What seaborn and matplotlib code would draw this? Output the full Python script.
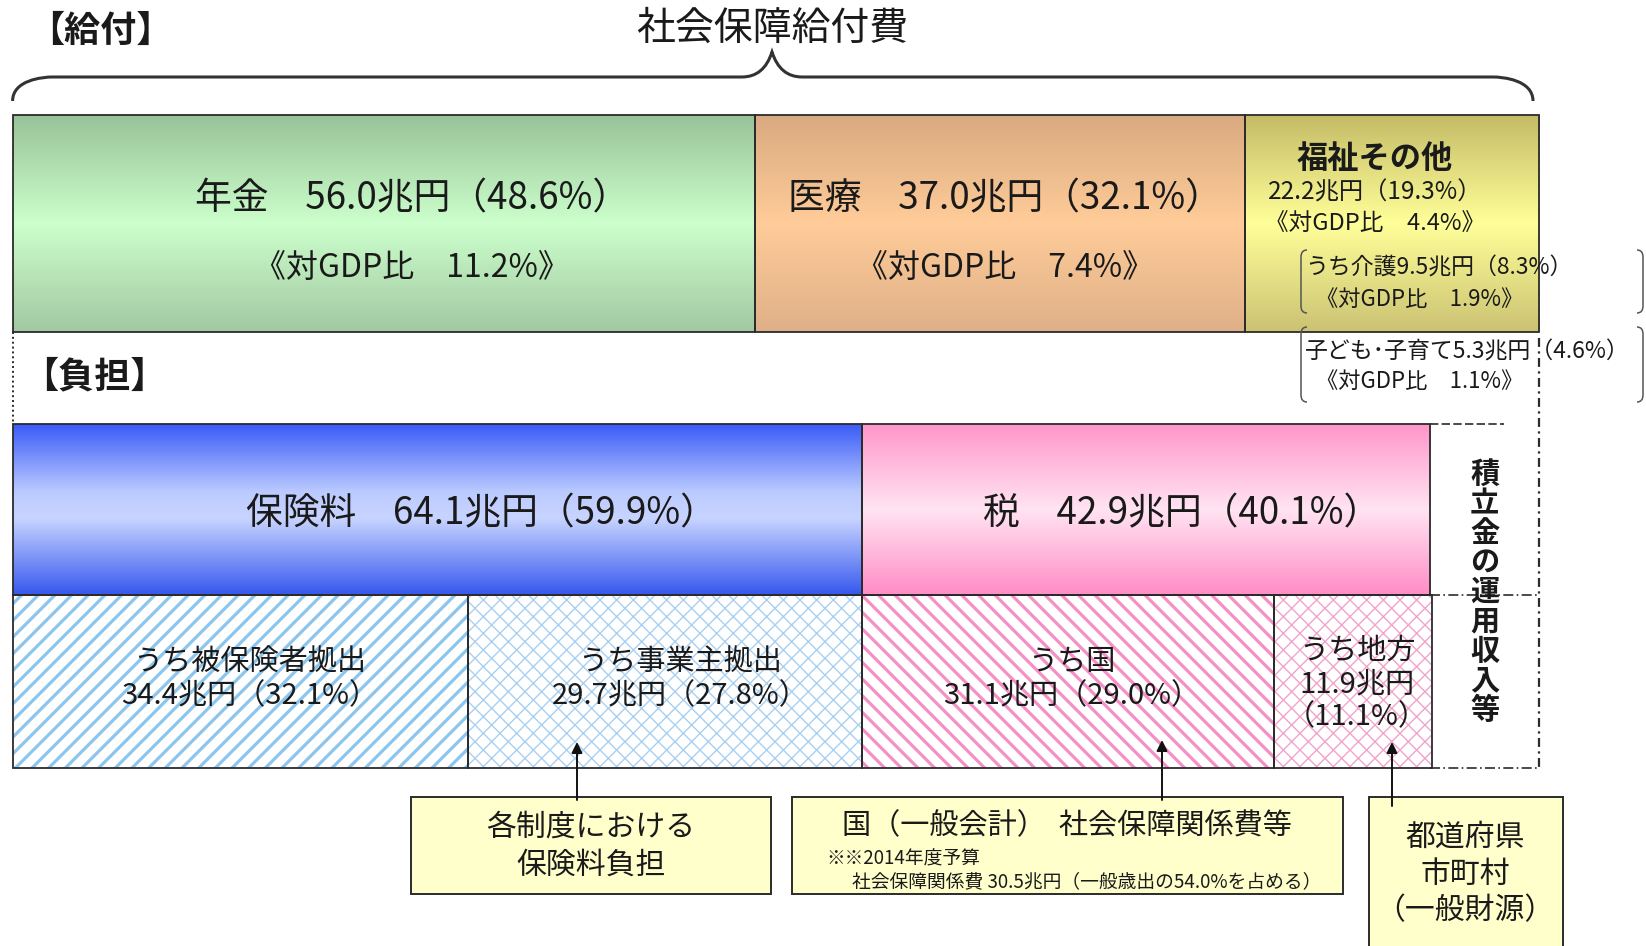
import numpy as np
import matplotlib
matplotlib.use("Agg")
import matplotlib.pyplot as plt
import seaborn as sns
from matplotlib.colors import LinearSegmentedColormap
from matplotlib.path import Path
from matplotlib.patches import PathPatch, Rectangle

# 給付 (兆円)
benefit_names = ["年金", "医療", "福祉その他"]
benefit_values = [56.0, 37.0, 22.2]
benefit_share = [48.6, 32.1, 19.3]
benefit_gdp = [11.2, 7.4, 4.4]

# 福祉その他の内訳
welfare_sub_names = ["うち介護", "子ども･子育て"]
welfare_sub_values = [9.5, 5.3]
welfare_sub_share = [8.3, 4.6]
welfare_sub_gdp = [1.9, 1.1]

# 負担 (兆円)
burden_names = ["保険料", "税"]
burden_values = [64.1, 42.9]
burden_share = [59.9, 40.1]

detail_names = ["うち被保険者拠出", "うち事業主拠出", "うち国", "うち地方"]
detail_values = [34.4, 29.7, 31.1, 11.9]
detail_share = [32.1, 27.8, 29.0, 11.1]

sns.set_theme(style="white")
plt.rcParams["font.family"] = ["Noto Sans CJK JP", "DejaVu Sans"]
TXT = "#1a1a1a"
EDGE = "#2b2b2b"

W, H = 1646, 946
fig = plt.figure(figsize=(W / 100, H / 100), dpi=100)

# bar axes: x in 兆円, y in pixels from top
x0_px, px_per = 12.6, 13.25
ax = fig.add_axes([0, 0, 1, 1])
ax.set_xlim(-x0_px / px_per, (W - x0_px) / px_per)
ax.set_ylim(H, 0)
ax.axis("off")

# overlay axes for text / decorations in pixels
ov = fig.add_axes([0, 0, 1, 1], zorder=5)
ov.set_xlim(0, W)
ov.set_ylim(H, 0)
ov.axis("off")
ov.patch.set_alpha(0)


def to_px(v):
    return x0_px + v * px_per


def grad_bar(left, width, yc, h, stops):
    bar = ax.barh(yc, width, left=left, height=h, color="none",
                  edgecolor=EDGE, linewidth=1.3, zorder=3)[0]
    cmap = LinearSegmentedColormap.from_list("g", stops)
    img = ax.imshow(np.linspace(0, 1, 256).reshape(-1, 1), cmap=cmap,
                    extent=(left, left + width, yc + h / 2, yc - h / 2),
                    aspect="auto", origin="upper", zorder=2)
    img.set_clip_path(bar)


def hatch_bar(left, width, yc, h, hatch, color, lw):
    bar = ax.barh(yc, width, left=left, height=h, color="white",
                  edgecolor=color, linewidth=0, hatch=hatch, zorder=2)[0]
    if hasattr(bar, "set_hatch_linewidth"):
        bar.set_hatch_linewidth(lw)
    ax.barh(yc, width, left=left, height=h, color="none",
            edgecolor=EDGE, linewidth=1.3, zorder=3)


# ---- 給付 bar ----
benefit_stops = [
    [(0, "#98c298"), (0.5, "#ccffcc"), (1, "#a2c8a2")],
    [(0, "#d9aa80"), (0.5, "#ffcc99"), (1, "#dfb088")],
    [(0, "#c4bb66"), (0.5, "#ffff99"), (1, "#cbc273")],
]
yb, hb = 224, 217
left = 0.0
for v, st in zip(benefit_values, benefit_stops):
    grad_bar(left, v, yb, hb, st)
    left += v
total_benefit = left

# ---- 負担 bars ----
burden_stops = [
    [(0, "#3a5cf7"), (0.4, "#bccbff"), (0.55, "#c8d4ff"), (1, "#3658ee")],
    [(0, "#ff96ca"), (0.5, "#ffe4f2"), (1, "#ff8cc6")],
]
ym, hm = 509.5, 171
left = 0.0
for v, st in zip(burden_values, burden_stops):
    grad_bar(left, v, ym, hm, st)
    left += v
total_burden = left

ys, hs = 681.5, 173
detail_styles = [("//", "#8cc6ee", 2.3), ("xx", "#a9d0f0", 1.0),
                 ("\\\\", "#f590c4", 2.3), ("xx", "#f2a4ca", 1.0)]
left = 0.0
for v, (hp, c, lw) in zip(detail_values, detail_styles):
    plt.rcParams["hatch.linewidth"] = lw
    hatch_bar(left, v, ys, hs, hp, c, lw)
    left += v

# 積立金の運用収入等 (remainder, dashed outline)
xr0, xr1 = to_px(total_burden), to_px(total_benefit)
ov.plot([xr0, xr0 + 74], [ym - hm / 2, ym - hm / 2], color=EDGE, lw=1.2, ls=(0, (5, 2)))
ov.plot([xr0, xr1], [ym + hm / 2, ym + hm / 2], color=EDGE, lw=1.2, ls=(0, (6, 2, 1, 2)))
ov.plot([xr0, xr1], [ys + hs / 2, ys + hs / 2], color=EDGE, lw=1.2, ls=(0, (6, 2, 1, 2)))
ov.plot([xr1, xr1], [yb + hb / 2 + 6, ys + hs / 2], color=EDGE, lw=1.6, ls=(0, (4, 2, 1, 2)))
ov.plot([to_px(0), to_px(0)], [yb + hb / 2, ym - hm / 2], color=EDGE, lw=1.4, ls=(0, (1, 1.5)))
ov.text((xr0 + xr1) / 2, 592, "\n".join("積立金の運用収入等"), ha="center", va="center",
        fontsize=21, fontweight="bold", color=TXT, linespacing=0.98)

# ---- brace ----
bx0, bx1, bc = to_px(0), to_px(total_benefit) - 6, 772
verts = [(bx0, 101), (bx0, 80), (bx0 + 30, 77), (bx0 + 40, 77),
         (bc - 30, 77), (bc - 8, 77), (bc, 52),
         (bc + 8, 77), (bc + 30, 77),
         (bx1 - 40, 77), (bx1 - 30, 77), (bx1, 80), (bx1, 101)]
codes = [Path.MOVETO, Path.CURVE4, Path.CURVE4, Path.CURVE4,
         Path.LINETO, Path.CURVE3, Path.CURVE3,
         Path.CURVE3, Path.CURVE3,
         Path.LINETO, Path.CURVE4, Path.CURVE4, Path.CURVE4]
ov.add_patch(PathPatch(Path(verts, codes), fill=False, edgecolor="#333333", lw=2.2))


def bracket(x, y0, y1, side):
    d = 6 * side
    vv = [(x + d, y0), (x, y0), (x, y0 + 7), (x, y1 - 7), (x, y1), (x + d, y1)]
    cc = [Path.MOVETO, Path.CURVE3, Path.CURVE3, Path.LINETO, Path.CURVE3, Path.CURVE3]
    ov.add_patch(PathPatch(Path(vv, cc), fill=False, edgecolor="#555555", lw=1.1))


for (a, b) in [(250, 313), (327, 402)]:
    bracket(1301, a, b, 1)
    bracket(1643, a, b, -1)

# ---- titles ----
ov.text(28, 31, "【給付】", ha="left", va="center", fontsize=26, fontweight="bold", color=TXT)
ov.text(772, 29, "社会保障給付費", ha="center", va="center", fontsize=28, color=TXT)
ov.text(22, 377, "【負担】", ha="left", va="center", fontsize=26, fontweight="bold", color=TXT)

# ---- benefit labels ----
cx = [412, 1005]
for i in range(2):
    ov.text(cx[i], 199, f"{benefit_names[i]}　{benefit_values[i]:.1f}兆円（{benefit_share[i]:.1f}%）",
            ha="center", va="center", fontsize=26.5, color=TXT)
    ov.text(cx[i], 268, f"《対GDP比　{benefit_gdp[i]:.1f}%》",
            ha="center", va="center", fontsize=23, color=TXT)

ov.text(1375, 159, benefit_names[2], ha="center", va="center", fontsize=22.5,
        fontweight="bold", color=TXT)
ov.text(1375, 193, f"{benefit_values[2]:.1f}兆円（{benefit_share[2]:.1f}%）",
        ha="center", va="center", fontsize=17.5, color=TXT)
ov.text(1375, 224, f"《対GDP比　{benefit_gdp[2]:.1f}%》",
        ha="center", va="center", fontsize=17, color=TXT)

for (y1, y2), n, v, s, g in zip([(268, 299), (352, 381)], welfare_sub_names,
                                welfare_sub_values, welfare_sub_share, welfare_sub_gdp):
    ov.text(1305, y1, f"{n}{v:.1f}兆円（{s:.1f}%）", ha="left", va="center",
            fontsize=16.5, color=TXT)
    ov.text(1316, y2, f"《対GDP比　{g:.1f}%》", ha="left", va="center",
            fontsize=16, color=TXT)

# ---- burden labels ----
bcx = [481, 1182]
for i in range(2):
    ov.text(bcx[i], 514, f"{burden_names[i]}　{burden_values[i]:.1f}兆円（{burden_share[i]:.1f}%）",
            ha="center", va="center", fontsize=26.5, color=TXT)

dcx = [250, 680, 1072]
for i in range(3):
    ov.text(dcx[i], 679, f"{detail_names[i]}\n{detail_values[i]:.1f}兆円（{detail_share[i]:.1f}%）",
            ha="center", va="center", fontsize=21, color=TXT, linespacing=1.2)
ov.text(1357, 684, f"{detail_names[3]}\n{detail_values[3]:.1f}兆円\n（{detail_share[3]:.1f}%）",
        ha="center", va="center", fontsize=21, color=TXT, linespacing=1.15)

# ---- callout boxes ----
box_fc = "#ffffcc"
for (bx, bw, bh) in [(411, 360, 97), (792, 551, 97), (1369, 194, 160)]:
    ov.add_patch(Rectangle((bx, 797), bw, bh, facecolor=box_fc, edgecolor=EDGE, lw=1.4, zorder=3))

ov.text(591, 846, "各制度における\n保険料負担", ha="center", va="center",
        fontsize=21.5, color=TXT, linespacing=1.3, zorder=4)
ov.text(1067, 826, "国（一般会計）  社会保障関係費等", ha="center", va="center",
        fontsize=21, color=TXT, zorder=4)
ov.text(826, 859, "※※2014年度予算", ha="left", va="center", fontsize=13.5, color=TXT, zorder=4)
ov.text(852, 882, "社会保障関係費 30.5兆円（一般歳出の54.0%を占める）", ha="left", va="center",
        fontsize=13.5, color=TXT, zorder=4)
ov.text(1465, 874, "都道府県\n市町村\n（一般財源）", ha="center", va="center",
        fontsize=21.5, color=TXT, linespacing=1.25, zorder=4)

# ---- arrows ----
for xa, ytop, ybot in [(577, 742, 800), (1162, 740, 800), (1392, 742, 806)]:
    ov.annotate("", xy=(xa, ytop), xytext=(xa, ybot),
                arrowprops=dict(arrowstyle="-|>", color="#111111", lw=1.4,
                                mutation_scale=16, shrinkA=0, shrinkB=0), zorder=5)

fig.savefig("out.png", dpi=100)
